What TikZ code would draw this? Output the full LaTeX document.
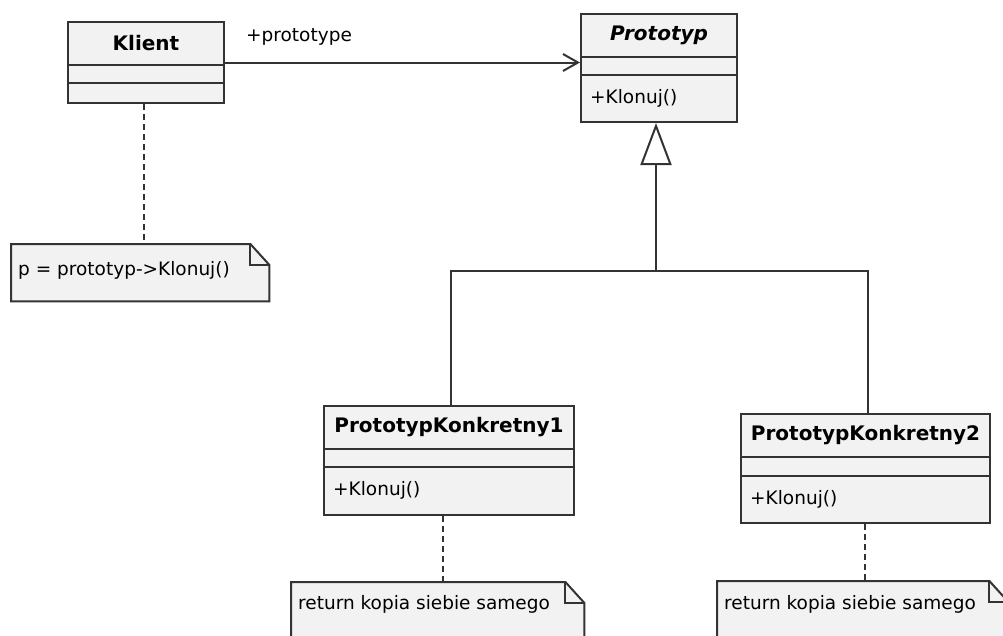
\documentclass[tikz,border=0pt]{standalone}
\usepackage{fontspec}
\setmainfont{DejaVu Sans}
\usetikzlibrary{arrows.meta,calc}

\definecolor{linecol}{HTML}{333333}
\definecolor{boxfill}{HTML}{F2F2F2}

\tikzset{
  classbox/.style={draw=linecol, line width=2pt, fill=boxfill, inner sep=0pt, anchor=north west},
  divider/.style={draw=linecol, line width=2pt},
  classname/.style={font=\fontsize{20}{24}\selectfont\bfseries, inner sep=0pt},
  member/.style={font=\fontsize{18.5}{22}\selectfont, inner sep=0pt, anchor=west},
  notebox/.style={inner sep=0pt, anchor=north west},
  noteline/.style={draw=linecol, line width=2pt, fill=boxfill},
  anchorlink/.style={draw=linecol, line width=2pt, dash pattern=on 6pt off 4pt},
  assoc/.style={draw=linecol, line width=2pt,
    -{Straight Barb[length=15pt,width=17pt,line width=2pt]}},
  generalization/.style={draw=linecol, line width=2pt,
    -{Triangle[open,length=42pt,width=31pt,line width=2pt]}}
}

% UML class: name, x, y, width, height, first divider, second divider, title
\newcommand\umlclass[8]{%
  \node[classbox, minimum width=#4pt, minimum height=#5pt] (#1) at (#2,#3) {};
  \draw[divider] ($(#1.north west)+(0,#6)$) -- ($(#1.north east)+(0,#6)$);
  \draw[divider] ($(#1.north west)+(0,#7)$) -- ($(#1.north east)+(0,#7)$);
  \node[classname] (#1-name) at ($(#1.north)+(0,#6/2)$) {#8};
}

% UML note outline with folded corner
\newcommand\umlnote[1]{%
  \draw[noteline] (#1.north west) -- ($(#1.north east)+(-19,0)$)
    -- ($(#1.north east)+(0,21)$) -- (#1.south east) -- (#1.south west) -- cycle;
  \draw[noteline, fill=none] ($(#1.north east)+(-19,0)$) |- ($(#1.north east)+(0,21)$);
}

\begin{document}
\begin{tikzpicture}[x=1pt, y=-1pt]
  \path[use as bounding box, clip] (0,0) rectangle (1003,635);
  \fill[white] (0,0) rectangle (1003,635);

  % classes
  \umlclass{klient}{67}{21}{156}{81}{44}{62}{Klient}
  \umlclass{proto}{580}{13}{156}{108}{44}{62}{\itshape Prototyp}
  \node[member] (proto-ops) at ($(proto.north west)+(10,85)$) {+Klonuj()};
  \umlclass{pk1}{323}{405}{250}{109}{44}{62}{PrototypKonkretny1}
  \node[member] (pk1-ops) at ($(pk1.north west)+(10,85)$) {+Klonuj()};
  \umlclass{pk2}{740}{413}{249}{109}{44}{63}{PrototypKonkretny2}
  \node[member] (pk2-ops) at ($(pk2.north west)+(10,86)$) {+Klonuj()};

  % notes
  \node[notebox, minimum width=258pt, minimum height=57pt] (noteK) at (11,244) {};
  \umlnote{noteK}
  \node[member] (noteK-text) at (18,270) {p = prototyp->Klonuj()};

  \node[notebox, minimum width=293pt, minimum height=80pt] (note1) at (291,582) {};
  \umlnote{note1}
  \node[member] (note1-text) at (298,604) {return kopia siebie samego};

  \node[notebox, minimum width=291pt, minimum height=80pt] (note2) at (717,581) {};
  \umlnote{note2}
  \node[member] (note2-text) at (724,604) {return kopia siebie samego};

  % association
  \draw[assoc] (klient.east) -- (klient.east -| proto.west);
  \node[member] (assoc-label) at (246,37) {+prototype};

  % generalization
  \coordinate (fork) at ($(proto.south)+(-3,148)$);
  \draw[generalization] (fork) -- (fork |- proto.south);
  \draw[divider] ($(pk1.north)+(2,0)$) |- (fork) -| ($(pk2.north)+(2,0)$);

  % note anchors
  \draw[anchorlink] ($(klient.south)+(-2,0)$) -- ($(klient.south |- noteK.north)+(-2,0)$);
  \draw[anchorlink] ($(pk1.south)+(-6,0)$) -- ($(pk1.south |- note1.north)+(-6,0)$);
  \draw[anchorlink] ($(pk2.south)+(-1,0)$) -- ($(pk2.south |- note2.north)+(-1,0)$);
\end{tikzpicture}
\end{document}
